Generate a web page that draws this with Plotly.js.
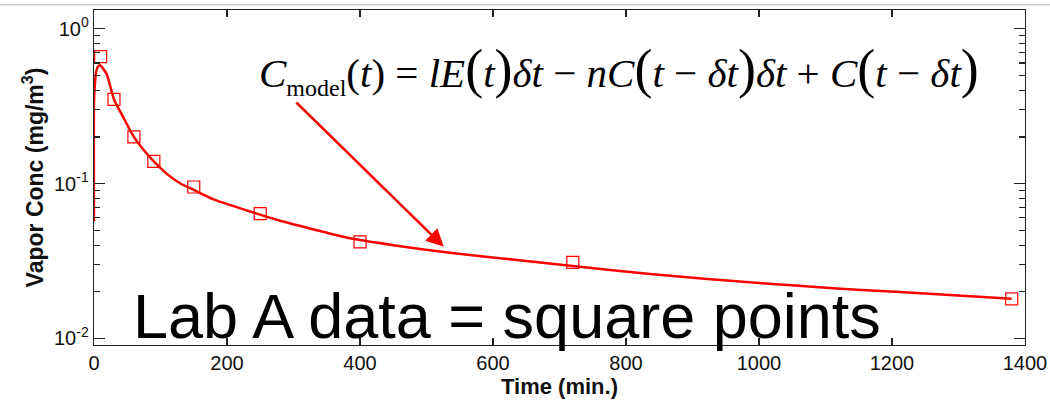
<!DOCTYPE html>
<html>
<head>
<meta charset="utf-8">
<script src="https://cdn.plot.ly/plotly-3.0.1.min.js"></script>
<style>
  html, body { margin: 0; padding: 0; background: #fff; }
  #chart { width: 1050px; height: 402px; }
</style>
</head>
<body>
<div id="chart"></div>
<script>
// Lab A measured data (square points)
const labTime = [10, 30, 60, 90, 150, 250, 400, 720, 1380];
const labConc = [0.66, 0.35, 0.20, 0.139, 0.095, 0.064, 0.042, 0.031, 0.018];

// Model curve
const modelTime = [0, 0, 1, 3, 6, 9, 19, 30, 45, 60, 75, 90, 110, 130, 150, 180, 230, 280, 385, 450, 535, 650, 720, 836, 1000, 1122, 1212, 1380];
const modelConc = [0.057, 0.34, 0.42, 0.52, 0.57, 0.58, 0.51, 0.35, 0.263, 0.20, 0.164, 0.139, 0.115, 0.100, 0.091, 0.079, 0.067, 0.0575, 0.0443, 0.040, 0.0357, 0.0316, 0.0293, 0.026, 0.0228, 0.0209, 0.0199, 0.0180];

// Axis ticks
const xTickVals = [0, 200, 400, 600, 800, 1000, 1200, 1400];
const yTickVals = [0.01, 0.1, 1];
const yTickText = ['10<sup>-2</sup>', '10<sup>-1</sup>', '10<sup>0</sup>'];
const yMinorTickVals = [0.02,0.03,0.04,0.05,0.06,0.07,0.08,0.09,0.2,0.3,0.4,0.5,0.6,0.7,0.8,0.9];
const yRangeLog = [-2.043, 0.121];

const red = '#ff0000';

const traces = [
  {
    x: modelTime, y: modelConc, type: 'scatter', mode: 'lines',
    line: { color: red, width: 2.5, shape: 'spline', smoothing: 0.6 }, hoverinfo: 'skip'
  },
  {
    x: labTime, y: labConc, type: 'scatter', mode: 'markers',
    marker: { symbol: 'square-open', size: 12, color: red, line: { color: red, width: 1.2 } }
  },
  // invisible trace on overlay axis so the minor-tick axis is drawn
  { x: [null], y: [null], yaxis: 'y2', type: 'scatter', mode: 'markers', hoverinfo: 'skip' }
];

const axisCommon = {
  showline: true, linecolor: '#222', linewidth: 1.3, mirror: 'ticks',
  ticks: 'inside', tickcolor: '#222', tickwidth: 1.2,
  showgrid: false, zeroline: false,
  tickfont: { family: 'Liberation Sans, Arial, sans-serif', size: 20, color: '#111' }
};

const eqBig = s => '<span style="font-size:54px">' + s + '</span>';

const layout = {
  width: 1050, height: 402,
  margin: { l: 94, r: 25, t: 10, b: 57 },
  paper_bgcolor: '#fff', plot_bgcolor: '#fff',
  showlegend: false,
  xaxis: Object.assign({}, axisCommon, {
    range: [0, 1400], tickmode: 'array', tickvals: xTickVals, ticklen: 7,
    title: { text: '<b>Time (min.)</b>', standoff: 2,
      font: { family: 'Liberation Sans Narrow, Arial Narrow, Liberation Sans, sans-serif', size: 22, color: '#111' } }
  }),
  yaxis: Object.assign({}, axisCommon, {
    type: 'log', range: yRangeLog,
    tickmode: 'array', tickvals: yTickVals, ticktext: yTickText, ticklen: 11,
    title: { text: '<b>Vapor Conc (mg/m<sup>3</sup>)</b>', standoff: 4,
      font: { family: 'Liberation Sans, Arial, sans-serif', size: 23, color: '#111' } }
  }),
  yaxis2: {
    type: 'log', range: yRangeLog, overlaying: 'y', side: 'left',
    tickmode: 'array', tickvals: yMinorTickVals, showticklabels: false,
    ticks: 'inside', ticklen: 6, tickcolor: '#222', tickwidth: 1.2,
    showline: false, mirror: 'ticks', showgrid: false, zeroline: false
  },
  shapes: [
    { type: 'line', xref: 'paper', yref: 'paper', x0: -0.101, x1: 1.03, y0: 1.016, y1: 1.016,
      line: { color: '#cfcfcf', width: 1.5 } }
  ],
  annotations: [
    {
      xref: 'paper', yref: 'paper', x: 0.564, y: 0.82, xanchor: 'center', yanchor: 'middle',
      showarrow: false,
      text: '<i>C</i><sub><span style="font-size:24px">model</span></sub>(<i>t</i>) = <i>lE</i>' + eqBig('(') + '<i>t</i>' + eqBig(')') +
            '<i>δt</i> − <i>nC</i>' + eqBig('(') + '<i>t</i> − <i>δt</i>' + eqBig(')') + '<i>δt</i> + <i>C</i>' +
            eqBig('(') + '<i>t</i> − <i>δt</i>' + eqBig(')'),
      font: { family: 'Liberation Serif, Times New Roman, serif', size: 41, color: '#000' }
    },
    {
      xref: 'paper', yref: 'paper', x: 0.444, y: 0.087, xanchor: 'center', yanchor: 'middle',
      showarrow: false,
      text: 'Lab A data = square points',
      font: { family: 'Liberation Sans, Arial, sans-serif', size: 63, color: '#000' }
    },
    {
      xref: 'x', yref: 'y', axref: 'x', ayref: 'y',
      x: 526, y: -1.409, ax: 302, ay: -0.467,
      text: '', showarrow: true, arrowhead: 2, arrowsize: 1.4, arrowwidth: 2.5, arrowcolor: red
    }
  ]
};

Plotly.newPlot('chart', traces, layout, { staticPlot: true, displayModeBar: false });
</script>
</body>
</html>
